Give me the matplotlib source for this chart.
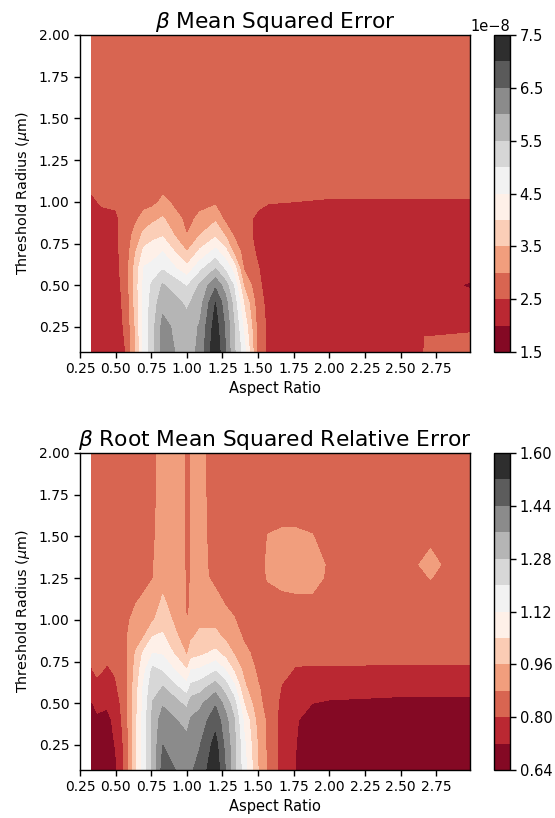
import numpy as np
import matplotlib
matplotlib.use("Agg")
import matplotlib.pyplot as plt

mse_x = [0.33,0.40,0.50,0.57,0.64,0.70,0.76,0.83,1.0,1.09,1.2,1.27,1.33,1.4,1.5,1.57,2.0,2.65,2.67,2.99]
mse_y = [0.1,0.25,0.4,0.5,0.6,0.7,0.8,0.9,1.0,1.1,1.25,1.5,1.75,2.0]
mse_values = [
 [2.3,2.3,2.35,2.5,3.5,4.7,5.35,6.2,5.8,6.1,7.45,6.5,5.6,4.75,2.85,2.4,2.2,2.4,2.56,2.6],
 [2.3,2.3,2.35,2.55,3.55,4.7,5.35,6.15,5.7,6.05,7.25,6.45,5.55,4.4,2.8,2.4,2.2,2.3,2.46,2.47],
 [2.3,2.3,2.35,2.6,3.7,4.7,5.2,5.85,5.4,5.75,7.0,6.2,5.3,3.95,2.7,2.35,2.2,2.2,2.2,2.2],
 [2.32,2.32,2.35,2.65,3.75,4.65,5.1,5.55,4.95,5.55,6.4,5.75,4.95,3.45,2.6,2.3,2.2,2.2,2.2,1.95],
 [2.35,2.35,2.38,2.7,3.7,4.55,4.75,4.95,4.15,4.85,5.5,4.9,4.3,2.95,2.52,2.3,2.2,2.2,2.2,2.2],
 [2.37,2.37,2.4,2.7,3.48,4.15,4.2,4.5,3.5,4.1,4.67,4.2,3.4,2.8,2.42,2.3,2.2,2.2,2.2,2.2],
 [2.38,2.38,2.42,2.68,3.2,3.65,3.9,3.95,3.0,3.5,3.9,3.45,2.95,2.7,2.35,2.3,2.25,2.25,2.25,2.25],
 [2.4,2.42,2.45,2.6,2.9,3.2,3.35,3.55,2.85,3.1,3.4,2.85,2.75,2.65,2.4,2.35,2.3,2.3,2.3,2.3],
 [2.45,2.53,2.55,2.6,2.7,2.8,2.85,3.1,2.75,2.85,2.9,2.75,2.7,2.65,2.6,2.52,2.47,2.47,2.47,2.47],
 [2.55,2.6,2.6,2.6,2.65,2.7,2.7,2.85,2.7,2.75,2.75,2.7,2.7,2.7,2.7,2.65,2.62,2.62,2.62,2.62],
 [2.65,2.65,2.65,2.65,2.65,2.7,2.7,2.75,2.7,2.7,2.7,2.7,2.7,2.7,2.7,2.7,2.7,2.7,2.7,2.7],
 [2.7,2.7,2.7,2.7,2.7,2.7,2.7,2.7,2.7,2.7,2.7,2.7,2.7,2.7,2.7,2.7,2.7,2.7,2.7,2.7],
 [2.7,2.7,2.7,2.7,2.7,2.7,2.7,2.7,2.7,2.7,2.7,2.7,2.7,2.7,2.7,2.7,2.7,2.7,2.7,2.7],
 [2.7,2.7,2.7,2.7,2.7,2.7,2.7,2.7,2.7,2.7,2.7,2.7,2.7,2.7,2.7,2.7,2.7,2.7,2.7,2.7],
]

rmsre_x = [0.33,0.37,0.44,0.50,0.57,0.64,0.70,0.76,0.83,0.98,1.0,1.03,1.09,1.2,1.27,1.33,1.4,1.5,1.57,1.67,1.76,1.88,2.0,2.5,2.62,2.71,2.8,2.99]
rmsre_y = [0.1,0.25,0.4,0.5,0.6,0.7,0.8,0.9,1.0,1.1,1.25,1.33,1.5,1.75,2.0]
rmsre_values = [
 [.68,.68,.68,.705,.82,1.02,1.16,1.30,1.47,1.42,1.41,1.43,1.47,1.58,1.44,1.31,1.16,.96,.865,.77,.72,.68,.67,.67,.67,.67,.67,.67],
 [.68,.68,.68,.725,.825,1.02,1.16,1.30,1.44,1.395,1.39,1.41,1.435,1.55,1.42,1.31,1.14,.95,.86,.77,.722,.69,.67,.67,.67,.67,.67,.67],
 [.69,.71,.70,.74,.84,1.02,1.16,1.30,1.40,1.34,1.33,1.37,1.39,1.49,1.39,1.29,1.105,.93,.86,.77,.725,.70,.69,.68,.68,.68,.68,.68],
 [.715,.735,.73,.76,.85,1.01,1.15,1.285,1.35,1.27,1.26,1.32,1.34,1.43,1.33,1.24,1.04,.90,.85,.78,.75,.72,.715,.71,.71,.71,.71,.71],
 [.76,.78,.76,.79,.855,1.0,1.14,1.25,1.28,1.165,1.15,1.22,1.24,1.32,1.24,1.14,.975,.885,.85,.795,.77,.75,.74,.735,.735,.735,.735,.735],
 [.795,.815,.79,.81,.86,.985,1.10,1.22,1.19,1.06,1.04,1.12,1.13,1.19,1.12,1.03,.94,.865,.845,.82,.795,.79,.79,.785,.785,.785,.785,.785],
 [.82,.83,.82,.83,.865,.965,1.06,1.12,1.11,.97,.95,1.0,1.02,1.06,1.01,.955,.90,.855,.84,.83,.82,.825,.83,.83,.83,.83,.83,.83],
 [.83,.835,.83,.84,.87,.93,.96,1.04,1.05,.925,.91,.95,.975,.98,.945,.915,.87,.85,.84,.84,.835,.835,.84,.84,.84,.84,.84,.84],
 [.84,.84,.84,.845,.865,.90,.93,.95,1.01,.895,.877,.90,.945,.94,.91,.885,.85,.845,.84,.84,.84,.84,.845,.845,.845,.845,.845,.845],
 [.84,.84,.84,.845,.85,.878,.90,.92,.975,.89,.87,.885,.925,.91,.875,.86,.85,.845,.85,.865,.87,.87,.86,.85,.85,.85,.85,.85],
 [.845,.845,.845,.845,.845,.85,.855,.878,.93,.89,.865,.885,.91,.86,.85,.85,.85,.855,.885,.895,.895,.895,.872,.855,.86,.882,.86,.855],
 [.845,.845,.845,.845,.845,.85,.85,.875,.92,.888,.862,.885,.905,.855,.85,.85,.85,.855,.89,.90,.905,.895,.875,.855,.878,.90,.875,.855],
 [.845,.845,.845,.845,.845,.85,.85,.87,.91,.89,.86,.885,.905,.85,.85,.85,.85,.855,.882,.888,.888,.882,.86,.85,.855,.865,.855,.85],
 [.84,.84,.84,.84,.845,.85,.85,.865,.905,.89,.86,.885,.90,.85,.845,.845,.845,.845,.85,.85,.85,.85,.85,.85,.85,.85,.85,.85],
 [.84,.84,.84,.84,.845,.85,.85,.865,.90,.885,.86,.882,.90,.85,.845,.845,.845,.845,.85,.85,.85,.85,.85,.85,.85,.85,.85,.85],
]

mse_levels = [1.5,2.0,2.5,3.0,3.5,4.0,4.5,5.0,5.5,6.0,6.5,7.0,7.5]
rmsre_levels = [0.64,0.72,0.80,0.88,0.96,1.04,1.12,1.20,1.28,1.36,1.44,1.52,1.60]
x_ticks = [0.25,0.50,0.75,1.00,1.25,1.50,1.75,2.00,2.25,2.50,2.75]
y_ticks = [0.25,0.50,0.75,1.00,1.25,1.50,1.75,2.00]

W, H = 555, 818
fig = plt.figure(figsize=(W/100, H/100), dpi=100)
plt.rcParams["axes.linewidth"] = 1.0

def box(l, t, r, b):
    return [l/W, 1-b/H, (r-l)/W, (b-t)/H]

def panel(top, x, y, z, levels, title, scale):
    bottom = top + 317
    ax = fig.add_axes(box(80, top, 470, bottom))
    cs = ax.contourf(x, y, np.array(z)*scale, levels=np.array(levels)*scale, cmap="RdGy")
    ax.set_xlim(0.25, 2.987)
    ax.set_ylim(0.1, 2.0)
    ax.set_xticks(x_ticks)
    ax.set_xticklabels([f"{v:.2f}" for v in x_ticks])
    ax.set_yticks(y_ticks)
    ax.set_yticklabels([f"{v:.2f}" for v in y_ticks])
    ax.tick_params(labelsize=10, width=1.0, length=4, pad=3.5)
    ax.set_xlabel("Aspect Ratio", fontsize=10.5, labelpad=3)
    ax.set_ylabel(r"Threshold Radius ($\mu$m)", fontsize=10.4, labelpad=5)
    ax.set_title(title, fontsize=15.7, pad=5)
    cax = fig.add_axes(box(494, top, 510, bottom))
    cb = fig.colorbar(cs, cax=cax)
    cb.set_ticks(np.array(levels[::2])*scale)
    cb.ax.tick_params(labelsize=10.5, width=1.0, length=4, pad=3)
    return cb

cb1 = panel(35, mse_x, mse_y, mse_values, mse_levels, r"$\beta$ Mean Squared Error", 1e-8)
cb1.ax.yaxis.get_offset_text().set_fontsize(10.5)
cb2 = panel(453, rmsre_x, rmsre_y, rmsre_values, rmsre_levels, r"$\beta$ Root Mean Squared Relative Error", 1)

fig.savefig("out.png", dpi=100)
